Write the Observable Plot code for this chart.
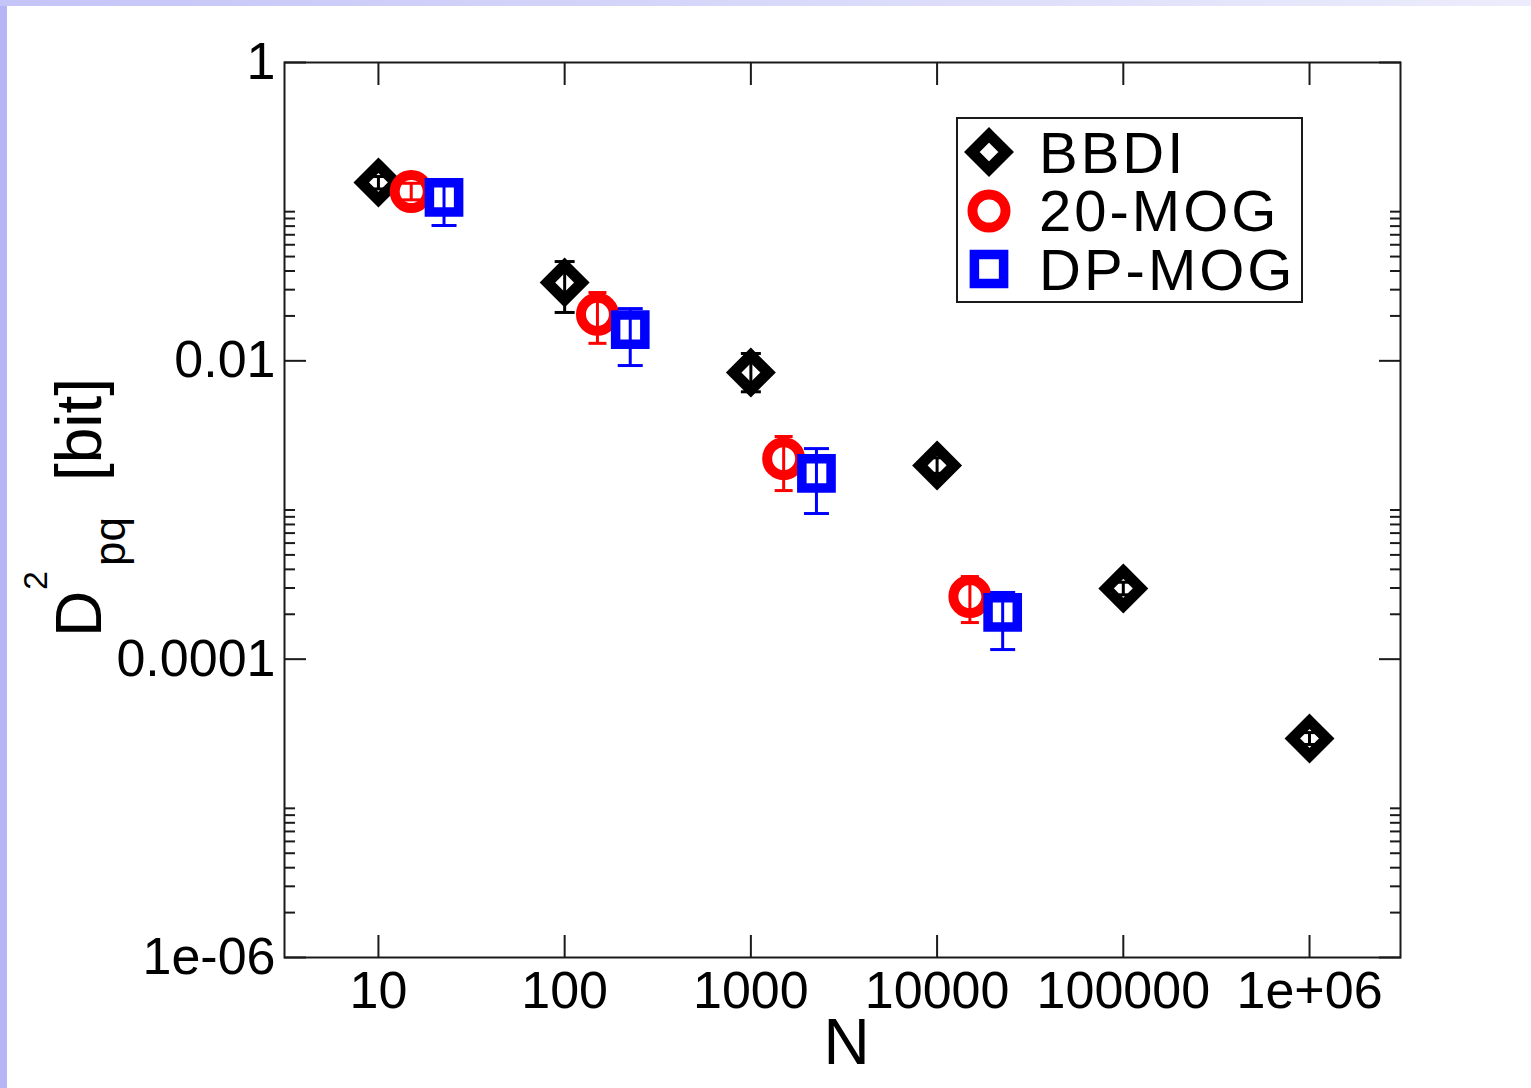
<!DOCTYPE html>
<html>
<head>
<meta charset="utf-8">
<script src="https://cdn.jsdelivr.net/npm/d3@7"></script>
<script src="https://cdn.jsdelivr.net/npm/@observablehq/plot@0.6"></script>
<style>
html, body { margin: 0; padding: 0; background: #fff; width: 1531px; height: 1088px; overflow: hidden; }
#wrap { position: relative; width: 1531px; height: 1088px; }
#chart { position: absolute; left: 0; top: 0; }
#leftband { position: absolute; left: 0; top: 0; width: 7px; height: 1088px; background: #b6b6f6; }
#topband { position: absolute; left: 0; top: 0; width: 1531px; height: 6px; background: linear-gradient(to right, #c4c4f8, #ececfc); }
</style>
</head>
<body>
<div id="wrap"><div id="chart"></div><div id="leftband"></div><div id="topband"></div></div>
<script>
// ---- data ----
const seriesNames = ["BBDI", "20-MOG", "DP-MOG"];
const seriesColors = ["#000000", "#ff0000", "#0000ff"];

const bbdiN  = [10, 100, 1000, 10000, 100000, 1000000];
const bbdiD  = [0.157, 0.0335, 0.00835, 0.00199, 0.000298, 0.0000294];
const bbdiLo = [0.142, 0.0211, 0.0062, 0.00176, 0.000270, 0.0000268];
const bbdiHi = [0.172, 0.0463, 0.0112, 0.00224, 0.000328, 0.0000322];

const mog20N  = [15, 150, 1500, 15000];
const mog20D  = [0.1365, 0.0205, 0.00221, 0.000263];
const mog20Lo = [0.120, 0.0131, 0.00135, 0.000176];
const mog20Hi = [0.155, 0.0287, 0.00311, 0.000358];

const dpmogN  = [22.5, 225, 2250, 22500];
const dpmogD  = [0.1245, 0.0162, 0.00176, 0.000206];
const dpmogLo = [0.0808, 0.0093, 0.000947, 0.000116];
const dpmogHi = [0.155, 0.0224, 0.00258, 0.000280];

const xTicks = [10, 100, 1000, 10000, 100000, 1000000];
const xTickLabels = ["10", "100", "1000", "10000", "100000", "1e+06"];
const yTicks = [1, 0.01, 0.0001, 0.000001];
const yTickLabels = ["1", "0.01", "0.0001", "1e-06"];
const yMinorTicks = [0.02, 0.03, 0.04, 0.05, 0.06, 0.07, 0.08, 0.09, 0.1,
                     0.0002, 0.0003, 0.0004, 0.0005, 0.0006, 0.0007, 0.0008, 0.0009, 0.001,
                     0.000002, 0.000003, 0.000004, 0.000005, 0.000006, 0.000007, 0.000008, 0.000009, 0.00001];

// ---- build table ----
function rowsOf(name, N, D, Lo, Hi) {
  return N.map((n, i) => ({series: name, N: n, D: D[i], lo: Lo[i], hi: Hi[i]}));
}
const seriesData = [
  rowsOf("BBDI", bbdiN, bbdiD, bbdiLo, bbdiHi),
  rowsOf("20-MOG", mog20N, mog20D, mog20Lo, mog20Hi),
  rowsOf("DP-MOG", dpmogN, dpmogD, dpmogLo, dpmogHi)
];

const fontFamily = '"Liberation Sans", Arial, Helvetica, sans-serif';
const ink = "#1a1a1a";

function capSymbol(halfWidth) {
  return {draw(ctx) { ctx.moveTo(-halfWidth, 0); ctx.lineTo(halfWidth, 0); }};
}
const styles = [
  {symbol: "diamond2", r: 15.5, sw: 11, cap: 10},
  {symbol: "circle", r: 16.5, sw: 10, cap: 9},
  {symbol: "square2", r: 18.6, sw: 9.5, cap: 12.5}
];

const marks = [];
seriesData.forEach((rows, k) => {
  const c = seriesColors[k], st = styles[k];
  marks.push(Plot.dot(rows, {x: "N", y: "D", symbol: st.symbol, r: st.r, stroke: c, strokeWidth: st.sw, fill: "none", strokeLinejoin: "miter"}));
  marks.push(Plot.ruleX(rows, {x: "N", y1: "lo", y2: "hi", stroke: c, strokeWidth: 3}));
  marks.push(Plot.dot(rows, {x: "N", y: "lo", symbol: capSymbol(st.cap), stroke: c, strokeWidth: 3}));
  marks.push(Plot.dot(rows, {x: "N", y: "hi", symbol: capSymbol(st.cap), stroke: c, strokeWidth: 3}));
});

const svg = Plot.plot({
  width: 1531,
  height: 1088,
  marginLeft: 284,
  marginRight: 131,
  marginTop: 62,
  marginBottom: 131,
  style: {fontFamily: fontFamily, background: "transparent", color: ink},
  x: {type: "log", domain: [3.13, 3.08e6]},
  y: {type: "log", domain: [1e-6, 1]},
  marks: [
    // tick labels
    Plot.axisX(xTicks, {anchor: "bottom", tickSize: 0, tickPadding: 14, fontSize: 52, fill: "black",
      tickFormat: d => xTickLabels[xTicks.indexOf(d)], label: null}),
    Plot.axisY(yTicks, {anchor: "left", tickSize: 0, tickPadding: 9, fontSize: 52, fill: "black",
      tickFormat: d => yTickLabels[yTicks.indexOf(d)], label: null}),
    // inward ticks
    Plot.axisX(xTicks, {anchor: "bottom", tickSize: -22, strokeWidth: 2, stroke: ink, fill: "none", label: null}),
    Plot.axisX(xTicks, {anchor: "top", tickSize: -22, strokeWidth: 2, stroke: ink, fill: "none", label: null}),
    Plot.axisY(yTicks, {anchor: "left", tickSize: -22, strokeWidth: 2, stroke: ink, fill: "none", label: null}),
    Plot.axisY(yTicks, {anchor: "right", tickSize: -22, strokeWidth: 2, stroke: ink, fill: "none", label: null}),
    Plot.axisY(yMinorTicks, {anchor: "left", tickSize: -11, strokeWidth: 2, stroke: ink, fill: "none", label: null}),
    Plot.axisY(yMinorTicks, {anchor: "right", tickSize: -11, strokeWidth: 2, stroke: ink, fill: "none", label: null}),
    ...marks,
    Plot.frame({stroke: ink, strokeWidth: 2}),
    Plot.text(["N"], {text: d => d, frameAnchor: "bottom", lineAnchor: "middle", dy: 86, dx: 4, fontSize: 64, fill: "black"})
  ]
});

// y-axis label with superscript / subscript
const s = d3.select(svg);
const ylab = s.append("text")
  .attr("transform", "translate(101,637) rotate(-90)")
  .attr("font-family", fontFamily)
  .attr("font-size", 64)
  .attr("text-anchor", "start")
  .attr("fill", "black");
ylab.append("tspan").attr("x", 0).attr("y", 0).text("D");
ylab.append("tspan").attr("x", 47).attr("y", -54).attr("font-size", 34).text("2");
ylab.append("tspan").attr("x", 71).attr("y", 24).attr("font-size", 44).text("pq");
ylab.append("tspan").attr("x", 156).attr("y", 0).text("[bit]");

// legend
const lg = s.append("g").attr("text-anchor", "start");
lg.append("rect").attr("x", 957).attr("y", 118).attr("width", 345).attr("height", 184)
  .attr("fill", "white").attr("stroke", ink).attr("stroke-width", 2);
const legendSymbols = [d3.symbolDiamond2, d3.symbolCircle, d3.symbolSquare2];
const legendRowY = [152, 211, 269];
const legendBase = [173, 231, 290];
seriesNames.forEach((name, k) => {
  const st = styles[k];
  lg.append("path")
    .attr("d", d3.symbol(legendSymbols[k], Math.PI * st.r * st.r)())
    .attr("transform", `translate(989,${legendRowY[k]})`)
    .attr("fill", "none").attr("stroke", seriesColors[k]).attr("stroke-width", st.sw)
    .attr("stroke-linejoin", "miter");
  lg.append("text").attr("x", 1039).attr("y", legendBase[k])
    .attr("font-family", fontFamily).attr("font-size", 58).attr("fill", "black")
    .attr("letter-spacing", 3)
    .attr("text-anchor", "start")
    .text(name);
});

document.getElementById("chart").appendChild(svg);
</script>
</body>
</html>
